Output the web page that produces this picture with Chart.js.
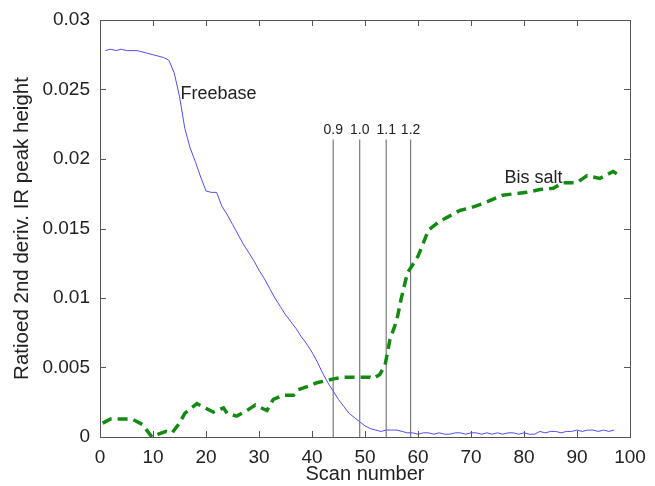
<!DOCTYPE html>
<html>
<head>
<meta charset="utf-8">
<script src="https://cdn.jsdelivr.net/npm/chart.js@4"></script>
<style>
  html, body { margin: 0; padding: 0; background: #fff; }
  #wrap { width: 655px; height: 486px; }
</style>
</head>
<body>
<div id="wrap"><canvas id="scanChart"></canvas></div>
<script>
// Freebase curve (scan number, peak height)
const freebaseScans = [1,2,3,4,5,6,7,8,9,10,11,12,13,14,15,16,17,18,19,20,21,22,23,24,25,26,27,28,29,30,
    31,32,33,34,35,36,37,38,39,40,41,42,43,44,45,46,47,48,49,50,51,52,53,54,55,56,57,58,59,60,
    61,62,63,64,65,66,67,68,69,70,71,72,73,74,75,76,77,78,79,80,81,82,83,84,85,86,87,88,89,90,
    91,92,93,94,95,96,97];
const freebase = [0.0278,0.0279,0.0278,0.0279,0.0278,0.0278,0.0278,0.0277,0.0276,0.0275,0.0274,0.0273,0.0271,0.0262,0.0245,
    0.0222,0.0208,0.0198,0.0187,0.0177,0.0176,0.0176,0.0166,0.0160,0.0153,0.0146,0.0139,0.0133,0.0127,0.0120,
    0.0114,0.0107,0.0100,0.0094,0.0088,0.0083,0.0078,0.0072,0.0067,0.0061,0.0054,0.0046,0.0039,0.0033,0.0027,
    0.0022,0.0017,0.0014,0.0011,0.0008,0.0006,0.0005,0.0004,0.0005,0.0005,0.0005,0.0004,0.0003,0.0003,0.0002,
    0.0003,0.0003,0.0002,0.0003,0.0002,0.0002,0.0003,0.0003,0.0002,0.0003,0.0003,0.0002,0.0003,0.0002,0.0003,
    0.0002,0.0003,0.0003,0.0002,0.0003,0.0002,0.0002,0.0004,0.0003,0.0004,0.0004,0.0003,0.0004,0.0004,0.0005,
    0.0004,0.0005,0.0005,0.0004,0.0005,0.0004,0.0005];

// Bis salt curve
const bisSaltScans = [0.5,2,4,6,8,9.8,11,12.5,13.6,15,16,18.3,19.8,21.4,23.3,24,25.8,27.7,29.3,31.5,32.7,34.6,36.5,37.4,39.6,40.9,
    44.3,45.9,49.7,51,51.6,52.8,53.8,54.7,56,56.8,58,60,62,64,65.5,67.9,70,72.3,76,80.5,83,85.5,87.4,90,91.9,94.3,96.8,97.7];
const bisSalt = [0.0010,0.0013,0.0013,0.0013,0.0009,0.0000,0.0002,0.0004,0.0003,0.0010,0.0017,0.0024,0.0021,0.0018,0.0021,0.0017,0.0015,0.0019,0.0023,0.0019,0.0027,0.0030,0.0030,0.0034,0.0037,0.0039,
    0.0042,0.0043,0.0043,0.0043,0.0042,0.0045,0.0052,0.0070,0.0084,0.0099,0.0118,0.0130,0.0149,0.0155,0.0158,0.0163,0.0165,0.0168,0.0174,0.0176,0.0178,0.0179,0.0183,0.0183,0.0188,0.0186,0.0191,0.0189];

// Molar ratio markers
const ratioScans = [44, 49, 54, 58.6];
const ratioLabels = ['0.9', '1.0', '1.1', '1.2'];
const ratioTop = 0.0214;

const xTicks = [0,10,20,30,40,50,60,70,80,90,100];
const yTicks = [0,0.005,0.01,0.015,0.02,0.025,0.03];

const FONT = '"Liberation Sans", Arial, sans-serif';

const toPoints = (xs, ys) => xs.map((x, i) => ({ x: x, y: ys[i] }));

const markerSets = ratioScans.map(s => ({
    data: [{ x: s, y: 0 }, { x: s, y: ratioTop }],
    borderColor: '#7a7a7a',
    borderWidth: 1.2,
    pointRadius: 0
}));

// inward ticks, box and text notes
const framePlugin = {
    id: 'frame',
    afterDatasetsDraw(chart) {
        const { ctx, chartArea: a, scales: { x, y } } = chart;
        ctx.save();
        ctx.strokeStyle = '#555';
        ctx.lineWidth = 1;
        ctx.strokeRect(a.left + 0.5, a.top + 0.5, a.right - a.left, a.bottom - a.top);
        ctx.beginPath();
        xTicks.forEach(v => {
            const px = Math.round(x.getPixelForValue(v)) + 0.5;
            ctx.moveTo(px, a.bottom); ctx.lineTo(px, a.bottom - 6);
            ctx.moveTo(px, a.top); ctx.lineTo(px, a.top + 6);
        });
        yTicks.forEach(v => {
            const py = Math.round(y.getPixelForValue(v)) + 0.5;
            ctx.moveTo(a.left, py); ctx.lineTo(a.left + 6, py);
            ctx.moveTo(a.right, py); ctx.lineTo(a.right - 6, py);
        });
        ctx.stroke();

        ctx.fillStyle = '#222';
        ctx.font = '14px ' + FONT;
        ctx.textAlign = 'center';
        ctx.textBaseline = 'bottom';
        ratioScans.forEach((s, i) => {
            ctx.fillText(ratioLabels[i], x.getPixelForValue(s), y.getPixelForValue(ratioTop) - 2);
        });

        ctx.font = '18px ' + FONT;
        ctx.textAlign = 'left';
        ctx.textBaseline = 'middle';
        ctx.fillText('Freebase', x.getPixelForValue(15.2), y.getPixelForValue(0.0247));
        ctx.fillText('Bis salt', x.getPixelForValue(76.3), y.getPixelForValue(0.0186));
        ctx.restore();
    }
};

new Chart(document.getElementById('scanChart'), {
    type: 'line',
    data: {
        datasets: [
            {
                data: toPoints(freebaseScans, freebase),
                borderColor: '#4f4ff0',
                borderWidth: 1,
                pointRadius: 0,
                tension: 0
            },
            {
                data: toPoints(bisSaltScans, bisSalt),
                borderColor: '#138a13',
                borderWidth: 3.5,
                borderDash: [10, 6],
                pointRadius: 0,
                tension: 0
            },
            ...markerSets
        ]
    },
    options: {
        responsive: true,
        maintainAspectRatio: false,
        animation: false,
        layout: { padding: { top: 20, right: 25, left: 0, bottom: 0 } },
        plugins: {
            legend: { display: false },
            tooltip: { enabled: false }
        },
        scales: {
            x: {
                type: 'linear',
                min: 0,
                max: 100,
                grid: { display: false },
                border: { display: false },
                afterBuildTicks: s => { s.ticks = xTicks.map(v => ({ value: v })); },
                afterFit: s => { s.height = 49; },
                ticks: {
                    color: '#222',
                    padding: 1,
                    maxRotation: 0,
                    font: { family: FONT, size: 19 }
                },
                title: {
                    display: true,
                    text: 'Scan number',
                    color: '#222',
                    padding: { top: 0, bottom: 0 },
                    font: { family: FONT, size: 20 }
                }
            },
            y: {
                min: 0,
                max: 0.03,
                grid: { display: false },
                border: { display: false },
                afterBuildTicks: s => { s.ticks = yTicks.map(v => ({ value: v })); },
                afterFit: s => { s.width = 100; },
                ticks: {
                    color: '#222',
                    padding: 2,
                    font: { family: FONT, size: 19 },
                    callback: v => String(v)
                },
                title: {
                    display: true,
                    text: 'Ratioed 2nd deriv. IR peak height',
                    color: '#222',
                    padding: { top: 10, bottom: 0 },
                    font: { family: FONT, size: 20.5 }
                }
            }
        }
    },
    plugins: [framePlugin]
});
</script>
</body>
</html>
